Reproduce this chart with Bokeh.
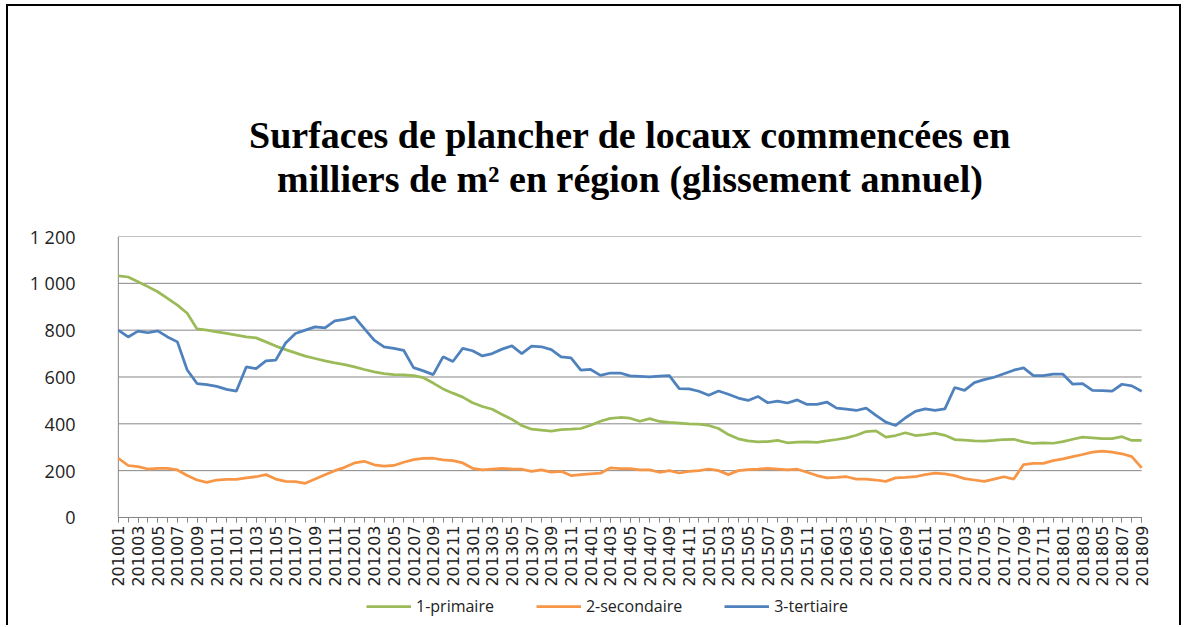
from math import pi
from bokeh.plotting import figure
from bokeh.models import FixedTicker, Legend, LegendItem, Title
from bokeh.embed import file_html
from bokeh.resources import INLINE

months = [f"{2010 + i // 12}{i % 12 + 1:02d}" for i in range(105)]
x = list(range(105))

primaire = [1032, 1027, 1007, 986, 964, 936, 907, 872, 805, 800, 793, 786, 779, 771, 767, 750,
            732, 717, 703, 689, 679, 669, 660, 653, 643, 632, 622, 614, 610, 609, 606, 597,
            574, 549, 531, 514, 490, 474, 462, 440, 419, 393, 377, 373, 369, 375, 377, 380,
            394, 411, 423, 427, 424, 411, 422, 410, 406, 403, 400, 399, 393, 380, 354, 336,
            327, 323, 324, 329, 319, 322, 323, 321, 327, 333, 340, 351, 367, 370, 343, 350,
            362, 350, 354, 360, 351, 333, 330, 327, 326, 329, 333, 334, 323, 316, 319, 317,
            324, 334, 343, 340, 337, 337, 345, 329, 329]

secondaire = [253, 222, 217, 207, 210, 210, 203, 179, 160, 150, 160, 163, 163, 169, 174, 183,
              164, 154, 153, 146, 164, 182, 200, 214, 233, 240, 225, 219, 222, 236, 247, 252,
              253, 246, 243, 233, 210, 203, 207, 210, 207, 206, 197, 203, 194, 197, 179, 183,
              186, 189, 212, 209, 209, 203, 203, 193, 200, 190, 197, 200, 207, 200, 183, 200,
              204, 206, 210, 207, 203, 206, 193, 179, 169, 171, 174, 164, 164, 160, 154, 169,
              171, 174, 183, 189, 186, 179, 166, 160, 154, 164, 174, 164, 226, 231, 231, 243,
              250, 260, 269, 279, 283, 279, 272, 260, 212]

tertiaire = [800, 771, 796, 789, 797, 771, 750, 630, 572, 567, 560, 547, 540, 643, 636, 669,
             672, 745, 786, 800, 814, 810, 840, 846, 857, 807, 757, 729, 722, 714, 640, 626,
             610, 686, 666, 722, 712, 690, 700, 719, 733, 700, 732, 729, 717, 686, 682, 629,
             632, 607, 617, 617, 605, 603, 600, 604, 606, 550, 549, 539, 522, 540, 526, 510,
             500, 517, 490, 497, 489, 502, 483, 483, 493, 467, 463, 457, 467, 436, 407, 393,
             426, 453, 464, 457, 464, 555, 543, 576, 589, 599, 614, 629, 639, 606, 606, 612,
             612, 569, 572, 543, 542, 540, 569, 562, 539]

series_names = ["1-primaire", "2-secondaire", "3-tertiaire"]
colors = ["#9BBB59", "#F79646", "#4F81BD"]
y_ticks = [0, 200, 400, 600, 800, 1000, 1200]
title_lines = ["Surfaces de plancher de locaux commencées en",
               "milliers de m² en région (glissement annuel)"]

# The frame extends below 0 (and one month past each end) so that the x labels
# and the legend live inside it; the x axis is pinned at y=0.
p = figure(frame_width=1043, frame_height=384, x_range=(-1, 105), y_range=(-440, 1200),
           output_backend="svg", toolbar_location=None,
           min_border_left=100, min_border_right=28, min_border_top=230, min_border_bottom=5)
p.styles = {"border-top": "2px solid black", "border-left": "2px solid black",
            "border-right": "2px solid black", "margin-left": "6px", "margin-top": "4px"}
p.outline_line_color = None
p.background_fill_color = "white"
p.border_fill_color = "white"

# spacer + two title lines (each later one sits farther from the frame)
spacer = Title(text=" ", text_font_size="1px", standoff=34)
t2 = Title(text=title_lines[1], align="center", text_font="Liberation Serif",
           text_font_size="38px", text_font_style="bold", text_color="black", standoff=0)
t1 = Title(text=title_lines[0], align="center", text_font="Liberation Serif",
           text_font_size="38px", text_font_style="bold", text_color="black", standoff=0)
p.add_layout(spacer, "above")
p.add_layout(t2, "above")
p.add_layout(t1, "above")

# horizontal gridlines and vertical axis line, limited to the data extent
p.xgrid.visible = False
p.ygrid.visible = False
p.segment(x0=[x[0]] * len(y_ticks), y0=y_ticks, x1=[x[-1]] * len(y_ticks), y1=y_ticks,
          line_color="#868686", line_width=1)
p.segment(x0=[x[0]], y0=[y_ticks[0]], x1=[x[0]], y1=[y_ticks[-1]],
          line_color="#868686", line_width=1)

# Y axis (labels only)
p.yaxis.ticker = FixedTicker(ticks=y_ticks)
p.yaxis.major_label_overrides = {1200: "1 200", 1000: "1 000"}
p.yaxis.axis_line_color = None
p.yaxis.major_tick_out = 0
p.yaxis.major_tick_in = 0
p.yaxis.minor_tick_out = 0
p.yaxis.minor_tick_in = 0
p.yaxis.major_label_standoff = 33
p.yaxis.major_label_text_font = "Open Sans"
p.yaxis.major_label_text_font_size = "18px"
p.yaxis.major_label_text_color = "#222222"

# X axis
p.xaxis.fixed_location = 0
p.xaxis.bounds = (x[0], x[-1])
p.xaxis.ticker = FixedTicker(ticks=list(range(0, 105, 2)), minor_ticks=x)
p.xaxis.major_label_overrides = {i: months[i] for i in range(0, 105, 2)}
p.xaxis.major_label_orientation = pi / 2
p.xaxis.axis_line_color = "#868686"
p.xaxis.major_tick_line_color = "#868686"
p.xaxis.minor_tick_line_color = "#868686"
p.xaxis.major_tick_out = 5
p.xaxis.major_tick_in = 0
p.xaxis.minor_tick_out = 5
p.xaxis.minor_tick_in = 0
p.xaxis.major_label_standoff = 3
p.xaxis.major_label_text_font = "DejaVu Sans"
p.xaxis.major_label_text_font_size = "16px"
p.xaxis.major_label_text_color = "#222222"

renderers = []
for vals, col in zip([primaire, secondaire, tertiaire], colors):
    r = p.line(x, vals, line_color=col, line_width=2.75)
    renderers.append(r)

legend = Legend(items=[LegendItem(label=n, renderers=[r]) for n, r in zip(series_names, renderers)],
                orientation="horizontal", location=(258, 3),
                border_line_color=None, background_fill_alpha=0,
                glyph_width=45, glyph_height=16, label_standoff=5, spacing=42,
                padding=0, margin=0,
                label_text_font="Open Sans", label_text_font_size="16px",
                label_text_color="#222222")
p.add_layout(legend)

open("out.html", "w").write(file_html(p, INLINE))
